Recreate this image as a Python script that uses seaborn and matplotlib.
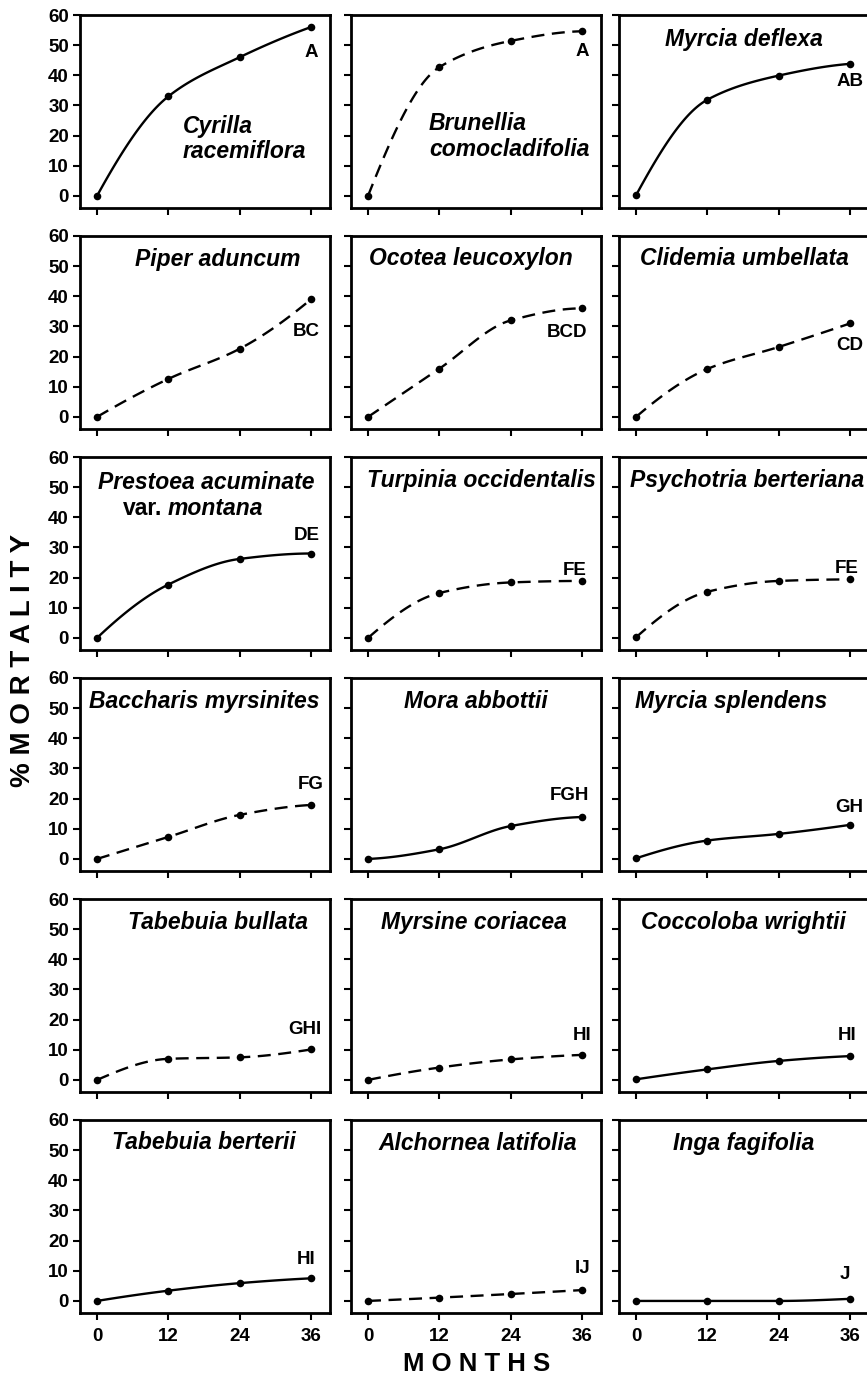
import matplotlib
matplotlib.use("Agg")
import matplotlib.pyplot as plt
import numpy as np
import pandas as pd
import seaborn as sns

# sampling times (months)
months = [0, 12, 24, 36]

# % mortality per species
cyrilla = [0, 33, 46, 56]
brunellia = [0, 42.7, 51.4, 54.6]
myrcia_deflexa = [0.2, 31.9, 39.9, 43.8]
piper = [0, 12.6, 22.6, 39]
ocotea = [0, 16, 32, 36]
clidemia = [0, 15.9, 23.2, 31]
prestoea = [0, 17.7, 26.2, 28]
turpinia = [0, 14.9, 18.4, 18.9]
psychotria = [0.2, 15.3, 18.9, 19.4]
baccharis = [0, 7.3, 14.6, 17.9]
mora = [0, 3.2, 10.9, 13.9]
myrcia_splendens = [0.2, 6.1, 8.3, 11.3]
tabebuia_bullata = [0, 7, 7.5, 10.1]
myrsine = [0, 4.1, 6.8, 8.3]
coccoloba = [0.2, 3.5, 6.3, 7.9]
tabebuia_berterii = [0, 3.4, 5.9, 7.5]
alchornea = [0, 1.1, 2.3, 3.6]
inga = [0, 0, 0, 0.7]

# (label, series, dashed?, significance group) in panel order
panels = [
    ("Cyrilla\nracemiflora", cyrilla, False, "A"),
    ("Brunellia\ncomocladifolia", brunellia, True, "A"),
    ("Myrcia deflexa", myrcia_deflexa, False, "AB"),
    ("Piper aduncum", piper, True, "BC"),
    ("Ocotea leucoxylon", ocotea, True, "BCD"),
    ("Clidemia umbellata", clidemia, True, "CD"),
    ("Prestoea acuminate", prestoea, False, "DE"),
    ("Turpinia occidentalis", turpinia, True, "FE"),
    ("Psychotria berteriana", psychotria, True, "FE"),
    ("Baccharis myrsinites", baccharis, True, "FG"),
    ("Mora abbottii", mora, False, "FGH"),
    ("Myrcia splendens", myrcia_splendens, False, "GH"),
    ("Tabebuia bullata", tabebuia_bullata, True, "GHI"),
    ("Myrsine coriacea", myrsine, True, "HI"),
    ("Coccoloba wrightii", coccoloba, False, "HI"),
    ("Tabebuia berterii", tabebuia_berterii, False, "HI"),
    ("Alchornea latifolia", alchornea, True, "IJ"),
    ("Inga fagifolia", inga, False, "J"),
]

# species name placement (axes fraction) and group letter placement (data coords)
name_pos = [
    (0.41, 0.357, "left"), (0.312, 0.37, "left"), (0.498, 0.875, "center"),
    (0.552, 0.876, "center"), (0.48, 0.886, "center"), (0.5, 0.886, "center"),
    (0.507, 0.87, "center"), (0.52, 0.876, "center"), (0.512, 0.876, "center"),
    (0.496, 0.876, "center"), (0.498, 0.876, "center"), (0.448, 0.876, "center"),
    (0.552, 0.876, "center"), (0.49, 0.876, "center"), (0.498, 0.876, "center"),
    (0.496, 0.886, "center"), (0.508, 0.88, "center"), (0.5, 0.88, "center"),
]
letter_pos = [
    (36, 47.6), (36, 47.8), (36, 37.9),
    (35.2, 28.2), (33.5, 28), (36, 23.7),
    (35.3, 34.1), (34.8, 22.4), (35.5, 22.9),
    (35.9, 24.6), (33.9, 21.1), (35.8, 17.2),
    (34.9, 16.7), (36, 14.7), (35.5, 14.7),
    (35.1, 13.9), (36.1, 10.7), (35.1, 8.7),
]


def smooth(x, y, n=120):
    """Monotone cubic (PCHIP) curve through the points, for drawing only."""
    x = np.asarray(x, float)
    y = np.asarray(y, float)
    h = np.diff(x)
    d = np.diff(y) / h
    m = np.zeros_like(y)
    for k in range(1, len(x) - 1):
        if d[k - 1] * d[k] > 0:
            w1 = 2 * h[k] + h[k - 1]
            w2 = h[k] + 2 * h[k - 1]
            m[k] = (w1 + w2) / (w1 / d[k - 1] + w2 / d[k])
    for i, (a, b, ha, hb) in enumerate([(d[0], d[1], h[0], h[1]), (d[-1], d[-2], h[-1], h[-2])]):
        e = ((2 * ha + hb) * a - ha * b) / (ha + hb)
        if np.sign(e) != np.sign(a):
            e = 0.0
        elif np.sign(a) != np.sign(b) and abs(e) > abs(3 * a):
            e = 3 * a
        m[0 if i == 0 else -1] = e
    xs = np.linspace(x[0], x[-1], n)
    idx = np.clip(np.searchsorted(x, xs, side="right") - 1, 0, len(x) - 2)
    t = (xs - x[idx]) / h[idx]
    h00 = 2 * t**3 - 3 * t**2 + 1
    h10 = t**3 - 2 * t**2 + t
    h01 = -2 * t**3 + 3 * t**2
    h11 = t**3 - t**2
    ys = h00 * y[idx] + h10 * h[idx] * m[idx] + h01 * y[idx + 1] + h11 * h[idx] * m[idx + 1]
    return xs, ys


sns.set_theme(style="ticks")
plt.rcParams["font.family"] = ["Liberation Sans", "DejaVu Sans"]
plt.rcParams["font.weight"] = "bold"
plt.rcParams["text.color"] = "black"
plt.rcParams["xtick.color"] = "black"
plt.rcParams["ytick.color"] = "black"
plt.rcParams["axes.labelcolor"] = "black"

W, H = 867, 1379
fig = plt.figure(figsize=(W / 100, H / 100), dpi=100)
col_left = [80, 351, 619]
ax_w, ax_h = 250, 193

for i, (name, vals, dashed, grp) in enumerate(panels):
    r, c = divmod(i, 3)
    top = 15 + 221 * r
    ax = fig.add_axes([col_left[c] / W, 1 - (top + ax_h) / H, ax_w / W, ax_h / H])

    xs, ys = smooth(months, vals)
    curve = pd.DataFrame({"month": xs, "mort": ys})
    pts = pd.DataFrame({"month": months, "mort": vals})
    ls = (0, (5.5, 3.2)) if dashed else "-"
    sns.lineplot(data=curve, x="month", y="mort", ax=ax, color="black",
                 linewidth=1.7, linestyle=ls, estimator=None, sort=False)
    sns.scatterplot(data=pts, x="month", y="mort", ax=ax, color="black",
                    s=30, edgecolor="black", linewidth=0, zorder=3)

    ax.set_xlim(-2.86, 39.2)
    ax.set_ylim(-4, 60)
    ax.set_xticks(months)
    ax.set_yticks(range(0, 61, 10))
    ax.set_xlabel("")
    ax.set_ylabel("")
    for sp in ax.spines.values():
        sp.set_visible(True)
        sp.set_linewidth(2.0)
        sp.set_color("black")
    ax.tick_params(direction="out", length=5, width=1.5, colors="black",
                   labelsize=13.5, labelcolor="black")
    ax.tick_params(axis="x", pad=6)
    ax.tick_params(axis="y", pad=3)
    if c != 0:
        ax.set_yticklabels([])
    if r != 5:
        ax.set_xticklabels([])

    nx_, ny_, ha = name_pos[i]
    if i == 6:
        ax.text(nx_, ny_, name, transform=ax.transAxes, ha="center", va="center",
                fontsize=16.5, fontweight="bold", fontstyle="italic", color="black")
        ax.text(0.33, 0.735, "var.", transform=ax.transAxes, ha="right", va="center",
                fontsize=16.5, fontweight="bold", color="black")
        ax.text(0.352, 0.735, "montana", transform=ax.transAxes, ha="left", va="center",
                fontsize=16.5, fontweight="bold", fontstyle="italic", color="black")
    else:
        ax.text(nx_, ny_, name, transform=ax.transAxes, ha=ha, va="center",
                multialignment="left", linespacing=1.15,
                fontsize=16.5, fontweight="bold", fontstyle="italic", color="black")
    lx, ly = letter_pos[i]
    ax.text(lx, ly, grp, ha="center", va="center", fontsize=13.5,
            fontweight="bold", color="black")

fig.text(23 / W, 1 - 660 / H, "% M O R T A L I T Y", rotation=90, ha="center",
         va="center", fontsize=20, fontweight="bold", color="black")
fig.text(477 / W, 1 - 1364 / H, "M O N T H S", ha="center", va="center",
         fontsize=18.5, fontweight="bold", color="black")

fig.savefig("out.png", dpi=100)
plt.close(fig)
